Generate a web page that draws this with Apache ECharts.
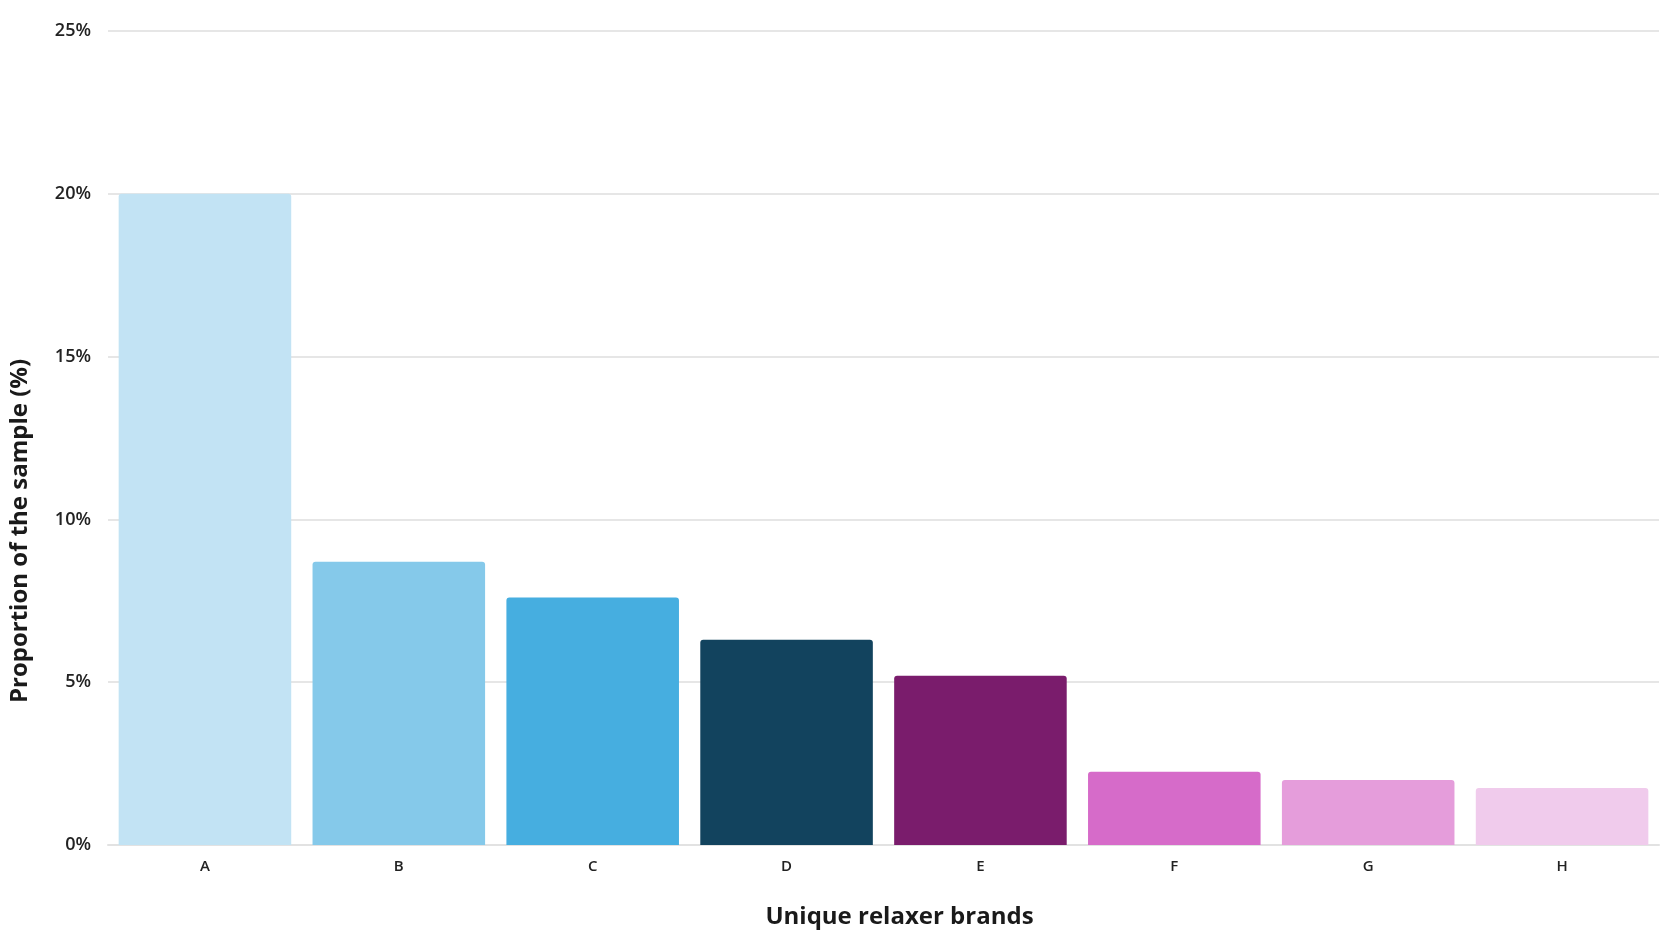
<!DOCTYPE html>
<html>
<head>
<meta charset="utf-8">
<script src="https://cdn.jsdelivr.net/npm/echarts@6/dist/echarts.min.js"></script>
<style>
html,body{margin:0;padding:0;background:#fff;}
#chart{width:1666px;height:934px;}
</style>
</head>
<body>
<div id="chart"></div>
<script>
const categories = ['A', 'B', 'C', 'D', 'E', 'F', 'G', 'H'];
const values = [20.0, 8.7, 7.6, 6.3, 5.2, 2.25, 2.0, 1.75];
const barColors = ['#c2e3f4', '#85c9ea', '#46aee0', '#12435e', '#7a1c6c', '#d66bc9', '#e59ddb', '#f0cbec'];
const yTicks = [0, 5, 10, 15, 20, 25];

const chart = echarts.init(document.getElementById('chart'));
chart.setOption({
  backgroundColor: '#ffffff',
  animation: false,
  grid: { left: 107, right: 7, top: 31, bottom: 88, containLabel: false },
  xAxis: {
    type: 'category',
    data: categories,
    name: 'Unique relaxer brands',
    nameLocation: 'middle',
    nameGap: 60,
    nameTextStyle: { fontFamily: 'Open Sans', fontWeight: 'bold', fontSize: 24, color: '#1a1a1a', padding: [0, 0, 0, 32] },
    axisLine: { show: true, lineStyle: { color: '#e2e2e2', width: 2 } },
    axisTick: { show: false },
    axisLabel: { fontFamily: 'Open Sans', fontWeight: 600, fontSize: 15, color: '#222', margin: 14 }
  },
  yAxis: {
    type: 'value',
    min: yTicks[0],
    max: yTicks[yTicks.length - 1],
    interval: 5,
    name: 'Proportion of the sample (%)',
    nameLocation: 'middle',
    nameGap: 76,
    nameRotate: 90,
    nameTextStyle: { fontFamily: 'Open Sans', fontWeight: 'bold', fontSize: 24, color: '#1a1a1a', padding: [0, 186, 0, 0] },
    axisLine: { show: false },
    axisTick: { show: false },
    axisLabel: { formatter: '{value}%', fontFamily: 'Open Sans', fontWeight: 600, fontSize: 18, color: '#222', margin: 17 },
    splitLine: { show: true, lineStyle: { color: '#e6e6e6', width: 2 } }
  },
  series: [{
    type: 'bar',
    data: values.map((v, i) => ({ value: v, itemStyle: { color: barColors[i] } })),
    barCategoryGap: '11%',
    itemStyle: { borderRadius: [3, 3, 0, 0] }
  }]
});
</script>
</body>
</html>
